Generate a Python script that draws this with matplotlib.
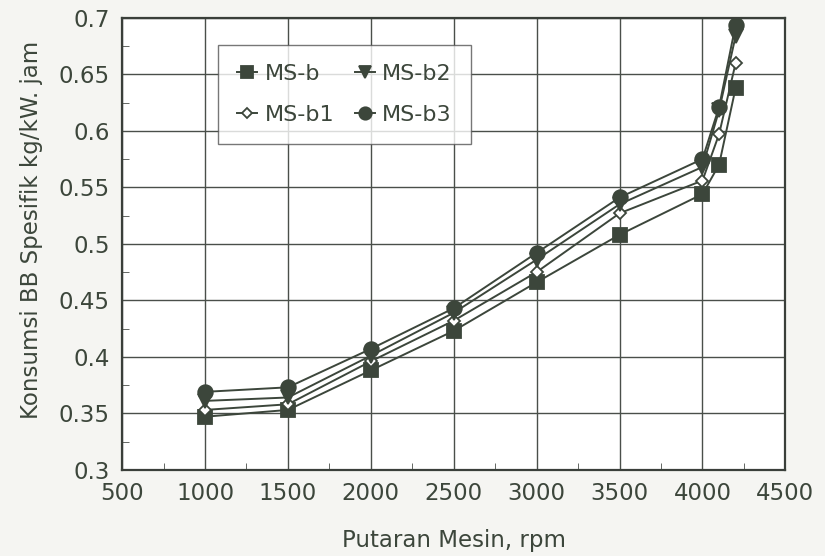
import matplotlib
matplotlib.use("Agg")
import matplotlib.pyplot as plt
from matplotlib.ticker import MultipleLocator

rpm = [1000, 1500, 2000, 2500, 3000, 3500, 4000, 4100, 4200]
ms_b = [0.347, 0.353, 0.388, 0.423, 0.466, 0.508, 0.544, 0.570, 0.638]
ms_b1 = [0.353, 0.358, 0.396, 0.432, 0.475, 0.527, 0.556, 0.597, 0.660]
ms_b2 = [0.361, 0.364, 0.401, 0.439, 0.486, 0.535, 0.568, 0.618, 0.684]
ms_b3 = [0.369, 0.373, 0.407, 0.443, 0.492, 0.541, 0.575, 0.621, 0.694]
yticks = [0.3, 0.35, 0.4, 0.45, 0.5, 0.55, 0.6, 0.65, 0.7]
ytick_labels = ["0.3", "0.35", "0.4", "0.45", "0.5", "0.55", "0.6", "0.65", "0.7"]

color = "#3c463b"
plt.rcParams["font.family"] = ["DejaVu Sans"]

fig = plt.figure(figsize=(8.25, 5.56), dpi=100, facecolor="#f5f5f2")
ax = fig.add_axes([0.148, 0.155, 0.804, 0.813], facecolor="white")

series = [
    ("MS-b", ms_b, "s", color, 10),
    ("MS-b1", ms_b1, "D", "white", 6),
    ("MS-b2", ms_b2, "v", color, 10),
    ("MS-b3", ms_b3, "o", color, 10.5),
]
handles = {}
for name, vals, marker, face, size in series:
    (line,) = ax.plot(rpm, vals, color=color, lw=1.4, marker=marker, ms=size,
                      mfc=face, mec=color, mew=1.3, label=name)
    handles[name] = line

ax.set_xlim(500, 4500)
ax.set_ylim(0.3, 0.7)
ax.set_xticks(range(500, 4501, 500))
ax.set_yticks(yticks)
ax.set_yticklabels(ytick_labels)
ax.xaxis.set_minor_locator(MultipleLocator(250))
ax.yaxis.set_minor_locator(MultipleLocator(0.025))
ax.grid(True, which="major", color="#4a4f4a", lw=1.0)
ax.tick_params(axis="both", which="major", labelsize=16.5, colors=color, length=0, pad=9)
ax.tick_params(axis="both", which="minor", direction="in", length=5, color="#4a4f4a")
for spine in ax.spines.values():
    spine.set_color("#3a3f3a")
    spine.set_linewidth(1.6)

ax.set_xlabel("Putaran Mesin, rpm", fontsize=16.5, color=color)
ax.set_ylabel("Konsumsi BB Spesifik kg/kW. jam", fontsize=16.5, color=color)
ax.xaxis.set_label_coords(0.5, -0.13)
ax.yaxis.set_label_coords(-0.12, 0.53)

order = ["MS-b", "MS-b1", "MS-b2", "MS-b3"]
leg = ax.legend([handles[n] for n in order], order, ncol=2, loc="upper left",
                bbox_to_anchor=(0.145, 0.94), borderaxespad=0, fontsize=16, frameon=True,
                fancybox=False, edgecolor="#555", handlelength=0.9, handletextpad=0.35,
                columnspacing=0.9, borderpad=0.85, labelspacing=0.95, labelcolor=color,
                markerscale=0.85)
leg.get_frame().set_linewidth(1.0)

fig.savefig("out.png", dpi=100, facecolor=fig.get_facecolor())
